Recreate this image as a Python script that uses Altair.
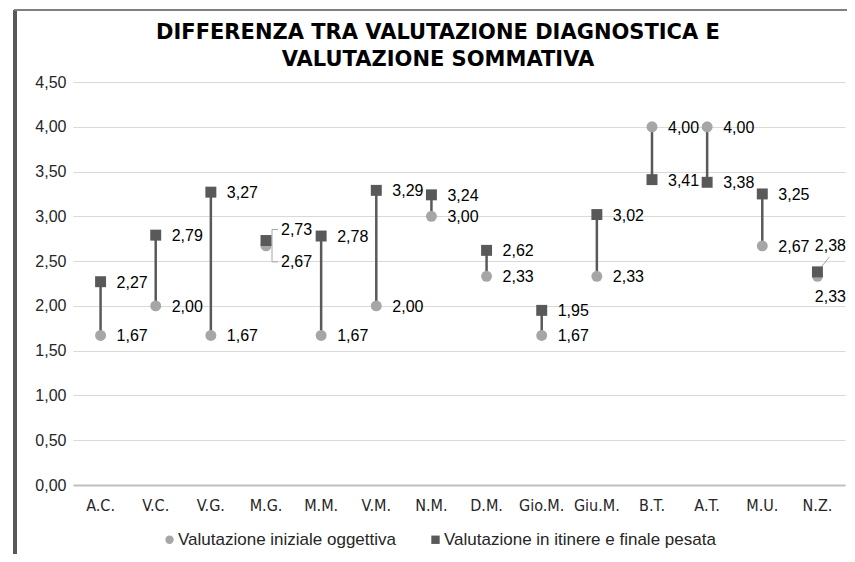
import altair as alt
import pandas as pd

categories = ["A.C.", "V.C.", "V.G.", "M.G.", "M.M.", "V.M.", "N.M.", "D.M.",
              "Gio.M.", "Giu.M.", "B.T.", "A.T.", "M.U.", "N.Z."]
iniziale = [1.67, 2.00, 1.67, 2.67, 1.67, 2.00, 3.00, 2.33, 1.67, 2.33, 4.00, 4.00, 2.67, 2.33]
finale = [2.27, 2.79, 3.27, 2.73, 2.78, 3.29, 3.24, 2.62, 1.95, 3.02, 3.41, 3.38, 3.25, 2.38]
series = ["Valutazione iniziale oggettiva", "Valutazione in itinere e finale pesata"]
y_ticks = [0, 0.5, 1, 1.5, 2, 2.5, 3, 3.5, 4, 4.5]
title_lines = ["DIFFERENZA TRA VALUTAZIONE DIAGNOSTICA E", "VALUTAZIONE SOMMATIVA"]

FONT = "Liberation Sans"
NARROW = "Liberation Sans Narrow, DejaVu Sans Condensed, Liberation Sans"
wide = pd.DataFrame({"cat": categories, "ini": iniziale, "fin": finale})
long = pd.concat([
    pd.DataFrame({"cat": categories, "series": series[0], "value": iniziale}),
    pd.DataFrame({"cat": categories, "series": series[1], "value": finale}),
])

xscale = alt.Scale(domain=categories, paddingInner=0, paddingOuter=0)
yscale = alt.Scale(domain=[0, 4.5], nice=False)
xaxis = alt.Axis(labelAngle=0, labelAlign="center", title=None)
yaxis = alt.Axis(values=y_ticks, labelExpr="replace(format(datum.value, '.2f'), '.', ',')", title=None)

def X():
    return alt.X("cat:N", sort=categories, scale=xscale, axis=xaxis, title=None)

def Y(field):
    return alt.Y(field, scale=yscale, axis=yaxis, title=None)

base_wide = alt.Chart(wide)
base_long = alt.Chart(long)

rules = base_wide.mark_rule(color="#595959", strokeWidth=2.5).encode(
    x=X(), y=Y("ini:Q"), y2="fin:Q")

leg = alt.Legend(title=None, orient="none", direction="horizontal",
                 legendX=88, legendY=449, labelFontSize=17, labelFont=FONT,
                 labelColor="#262626", symbolSize=70, columnPadding=31,
                 labelOffset=0, labelLimit=0)
points = base_long.mark_point(filled=True, opacity=1, size=120).encode(
    x=X(), y=Y("value:Q"),
    shape=alt.Shape("series:N", sort=series,
                    scale=alt.Scale(domain=series, range=["circle", "square"]), legend=leg),
    color=alt.Color("series:N", sort=series,
                    scale=alt.Scale(domain=series, range=["#a6a6a6", "#595959"]), legend=leg),
)

lab = "replace(format(datum.value, '.2f'), '.', ',')"

def text_layer(filt, dx, dy, align="left"):
    return base_long.transform_filter(filt).transform_calculate(lbl=lab).mark_text(
        align=align, baseline="middle", dx=dx, dy=dy, fontSize=16, font=FONT, color="#000000"
    ).encode(x=X(), y=Y("value:Q"), text="lbl:N")

general = text_layer("datum.cat != 'M.G.' && datum.cat != 'N.Z.'", 16, 1)
mg_fin = text_layer(f"datum.cat == 'M.G.' && datum.series == '{series[1]}'", 15, -11)
mg_ini = text_layer(f"datum.cat == 'M.G.' && datum.series == '{series[0]}'", 15, 16)
nz_fin = text_layer(f"datum.cat == 'N.Z.' && datum.series == '{series[1]}'", 13, -26, "center")
nz_ini = text_layer(f"datum.cat == 'N.Z.' && datum.series == '{series[0]}'", 13, 21, "center")

leader_col = "#a6a6a6"
mg = base_wide.transform_filter("datum.cat == 'M.G.'")
mg_bracket = mg.mark_rule(color=leader_col, strokeWidth=1, xOffset=6, yOffset=-11, y2Offset=16).encode(
    x=X(), y=Y("fin:Q"), y2="ini:Q")
mg_top = mg.mark_rule(color=leader_col, strokeWidth=1, xOffset=6, x2Offset=12,
                      yOffset=-11, y2Offset=-11).encode(x=X(), x2="cat:N", y=Y("fin:Q"), y2="fin:Q")
mg_bot = mg.mark_rule(color=leader_col, strokeWidth=1, xOffset=6, x2Offset=12,
                      yOffset=16, y2Offset=16).encode(x=X(), x2="cat:N", y=Y("ini:Q"), y2="ini:Q")
nz_lead = base_wide.transform_filter("datum.cat == 'N.Z.'").mark_rule(
    color=leader_col, strokeWidth=1, xOffset=0, x2Offset=12, yOffset=0, y2Offset=-15).encode(
    x=X(), x2="cat:N", y=Y("fin:Q"), y2="fin:Q")

frame_left = alt.Chart(wide).mark_rule(color="#595959", strokeWidth=3).encode(
    x=alt.value(-58), y=alt.value(-72), y2=alt.value(480))
frame_top = alt.Chart(wide).mark_rule(color="#7f7f7f", strokeWidth=2).encode(
    x=alt.value(-59), x2=alt.value(790), y=alt.value(-72))

chart = alt.layer(
    frame_left, frame_top, rules, mg_bracket, mg_top, mg_bot, nz_lead,
    points, general, mg_fin, mg_ini, nz_fin, nz_ini
).properties(
    width=772, height=403,
    autosize=alt.AutoSizeParams(type="none"),
    padding={"left": 65, "top": 74, "right": 2, "bottom": 69},
    title=alt.TitleParams(title_lines, font="DejaVu Sans", fontSize=21, fontWeight="bold",
                          color="#000000", anchor="middle", frame="group", offset=0,
                          lineHeight=27, dx=-21, dy=61),
    background="white",
).configure_view(stroke=None).configure_axisX(
    labelFontSize=16, labelColor="#262626", labelFont=NARROW, ticks=False,
    domainColor="#bfbfbf", domainWidth=2, labelPadding=12, grid=False,
).configure_axisY(
    labelFontSize=16, labelColor="#262626", labelFont=FONT, ticks=False,
    domain=False, gridColor="#d9d9d9", gridWidth=1, labelPadding=7,
)

chart.save("out.html", embed_options={"renderer": "svg", "actions": False})
